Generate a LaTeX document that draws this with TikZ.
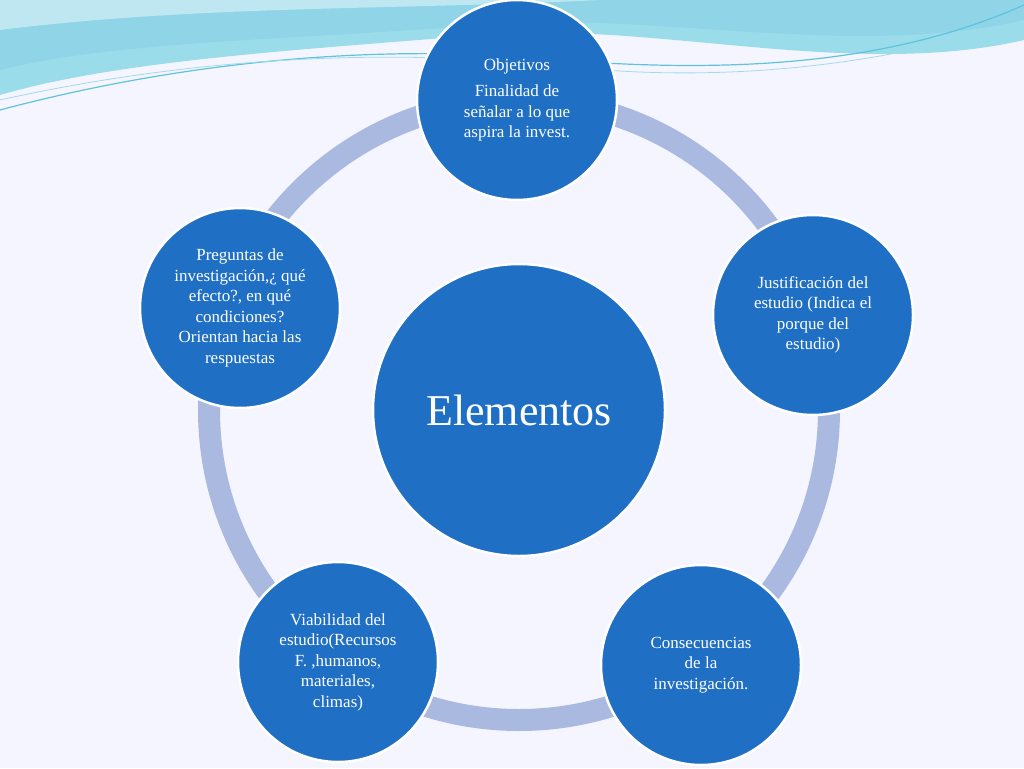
\documentclass[tikz,border=0pt]{standalone}
\usepackage{fontspec}
\setmainfont{Liberation Serif}
\begin{document}
\begin{tikzpicture}[x=1pt,y=-1pt,
  outer/.style={circle,fill=blue1,draw=white,line width=2.5pt,minimum size=200pt,inner sep=0pt,text=white,align=center,font=\fontsize{17}{20.5}\selectfont},
  ring/.style={draw=ringc,line width=22pt}]
\definecolor{blue1}{HTML}{1F6FC5}
\definecolor{ringc}{HTML}{A9B9DF}
\definecolor{wave1}{HTML}{5FC3DD}
\definecolor{wave2}{HTML}{9ADCEA}
\useasboundingbox (0,0) rectangle (1024,768);
\fill[white!96!blue] (0,0) rectangle (1024,768);
% top waves
\fill[wave2] (0,0) -- (1024,0) -- (1024,40) .. controls (850,80) and (650,20) .. (480,35) .. controls (300,50) and (120,60) .. (0,95) -- cycle;
\fill[wave1!70] (0,0) -- (1024,0) -- (1024,20) .. controls (850,60) and (650,10) .. (480,25) .. controls (300,40) and (120,40) .. (0,70) -- cycle;
\fill[wave1!40] (0,0) -- (600,0) .. controls (400,10) and (200,5) .. (0,30) -- cycle;
\draw[wave1,line width=1.2pt] (0,110) .. controls (150,70) and (350,40) .. (560,60) .. controls (750,75) and (900,60) .. (1024,5);
\draw[wave1!60,line width=0.8pt] (0,100) .. controls (180,60) and (380,45) .. (580,68) .. controls (760,85) and (920,55) .. (1024,20);
% ring
\node[circle,minimum size=620pt,inner sep=0pt] (R) at (519,410) {};
\draw[ring] (R.center) circle (310pt);
\node[circle,fill=blue1,draw=white,line width=2.5pt,minimum size=292pt,inner sep=0pt,text=white,font=\fontsize{44}{48}\selectfont] (c) at (519,410) {Elementos};
\node[outer] (o1) at (517,100) {\raisebox{2pt}{Objetivos}\\[4pt]Finalidad de\\señalar a lo que\\aspira la invest.};
\node[outer] (o2) at (813,315) {Justificación del\\estudio (Indica el\\porque del\\estudio)};
\node[outer] (o3) at (701,665) {Consecuencias\\de la\\investigación.};
\node[outer] (o4) at (338,662) {Viabilidad del\\estudio(Recursos\\F. ,humanos,\\materiales,\\climas)};
\node[outer] (o5) at (240,308) {Preguntas de\\investigación,¿ qué\\efecto?, en qué\\condiciones?\\Orientan hacia las\\respuestas};
\end{tikzpicture}
\end{document}
